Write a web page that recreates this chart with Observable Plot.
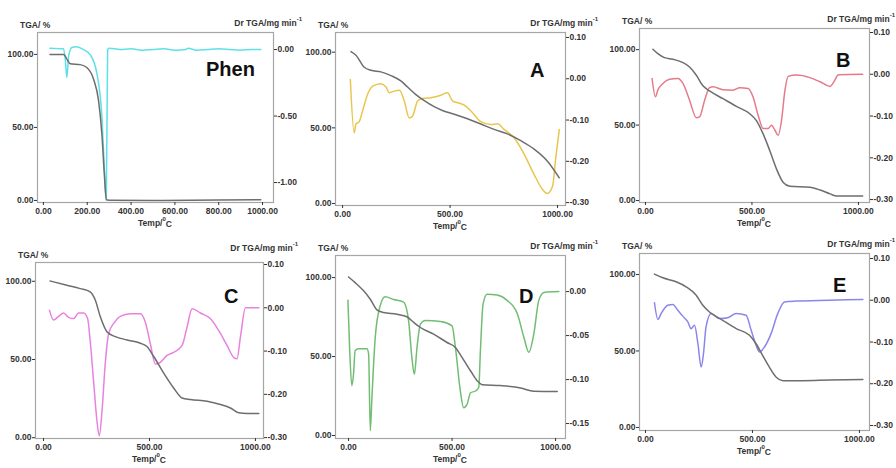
<!DOCTYPE html>
<html><head><meta charset="utf-8">
<script src="https://cdn.jsdelivr.net/npm/d3@7"></script>
<script src="https://cdn.jsdelivr.net/npm/@observablehq/plot@0.6"></script>
<style>
body{margin:0;background:#fff;}
#chart{position:relative;width:896px;height:468px;overflow:hidden;background:#fff;font-family:"Liberation Sans Narrow","Liberation Sans",Arial,sans-serif;}
#chart svg{position:absolute;}
.lab{position:absolute;font-size:8.5px;font-weight:bold;color:#333;white-space:nowrap;line-height:1;}
.lab sup{font-size:6px;vertical-align:5px;line-height:0;}
.lab .sub{font-size:8.5px;position:relative;top:1px;}
.name{position:absolute;font-family:"Liberation Sans",Arial,sans-serif;font-size:20px;font-weight:bold;color:#111;line-height:1;white-space:nowrap;}
</style></head><body><div id="chart"></div>
<script>
// ---------- data (temperature in °C, TGA in %, DTG in mg/min) ----------
const phenTgaT = [30, 92, 110, 122, 168, 198, 229, 252, 267, 278, 287, 300, 500, 800, 992];
const phenTga  = [100, 100, 96, 93.6, 93, 91, 83, 68, 45, 18, 0.5, 0.2, 0, 0.3, 0.5];
const phenDtgT = [30, 92, 100, 107, 115, 130, 150, 183, 214, 244, 267, 278, 287, 293, 300, 350, 400, 450, 500, 550, 600, 650, 660, 700, 750, 800, 850, 900, 950, 992];
const phenDtg  = [0.01, 0.005, -0.08, -0.21, -0.05, 0.015, 0.02, 0, -0.04, -0.18, -0.51, -0.89, -1.13, 0.0, 0.01, 0.0, 0.005, -0.005, 0.0, 0.005, -0.005, 0.0, 0.01, -0.005, 0.0, 0.005, 0.0, -0.005, 0.0, 0.0];

const aTgaT = [39, 62, 101, 132, 178, 225, 271, 302, 341, 380, 426, 473, 519, 581, 643, 705, 767, 829, 891, 953, 1008];
const aTga  = [100.4, 98, 90, 88, 87, 84.5, 81, 77, 72, 68, 64, 61, 59, 56, 52.5, 49, 46, 41.5, 36, 28, 17];
const aDtgT = [36, 54, 62, 78, 93, 116, 140, 178, 202, 217, 240, 264, 287, 310, 326, 349, 372, 411, 457, 488, 512, 535, 566, 597, 643, 690, 721, 752, 798, 845, 891, 930, 953, 977, 992, 1008];
const aDtg  = [-0.002, -0.131, -0.11, -0.103, -0.078, -0.038, -0.018, -0.012, -0.02, -0.034, -0.03, -0.028, -0.054, -0.095, -0.09, -0.054, -0.048, -0.046, -0.04, -0.034, -0.054, -0.058, -0.064, -0.078, -0.104, -0.111, -0.109, -0.123, -0.143, -0.183, -0.232, -0.268, -0.278, -0.26, -0.19, -0.123];

const bTgaT = [35, 58, 89, 129, 176, 207, 239, 270, 301, 364, 427, 490, 521, 553, 584, 615, 647, 678, 772, 820, 867, 898, 1020];
const bTga  = [100.2, 97.3, 94.7, 93.6, 91.4, 88.5, 83, 76, 72.6, 67.5, 62.4, 57.5, 53, 44, 33, 21, 12, 9.5, 8.8, 7, 4.4, 3, 3];
const bDtgT = [31, 47, 58, 82, 113, 152, 176, 207, 239, 254, 278, 301, 317, 364, 411, 443, 482, 505, 529, 553, 576, 592, 608, 623, 639, 655, 670, 710, 772, 820, 867, 885, 906, 1020];
const bDtg  = [-0.010, -0.054, -0.038, -0.022, -0.012, -0.010, -0.022, -0.062, -0.104, -0.102, -0.062, -0.032, -0.030, -0.037, -0.038, -0.032, -0.034, -0.054, -0.098, -0.130, -0.130, -0.122, -0.134, -0.146, -0.110, -0.038, -0.005, -0.002, -0.008, -0.018, -0.029, -0.018, -0.001, 0];

const cTgaT = [31, 110, 173, 220, 244, 268, 299, 339, 394, 457, 488, 520, 567, 614, 654, 693, 772, 835, 882, 921, 961, 1016];
const cTga  = [100.2, 97.5, 95.3, 93.2, 88, 77.3, 67.8, 64.6, 62.5, 60.4, 58.3, 51.9, 41.3, 31.8, 25.4, 24.4, 23.3, 21.2, 19, 15.9, 15.5, 15.5];
const cDtgT = [28, 47, 71, 94, 118, 142, 165, 189, 208, 220, 236, 252, 263, 276, 291, 307, 331, 362, 409, 457, 480, 504, 528, 551, 583, 614, 654, 677, 701, 740, 787, 827, 866, 898, 913, 929, 953, 1016];
const cDtg  = [-0.006, -0.028, -0.020, -0.012, -0.022, -0.025, -0.012, -0.012, -0.025, -0.076, -0.169, -0.261, -0.296, -0.238, -0.130, -0.060, -0.036, -0.020, -0.014, -0.014, -0.033, -0.083, -0.130, -0.126, -0.110, -0.103, -0.087, -0.045, -0.002, -0.012, -0.025, -0.053, -0.087, -0.115, -0.118, -0.068, 0, 0];

const dTgaT = [0, 32, 73, 105, 137, 169, 234, 282, 315, 347, 411, 476, 516, 548, 589, 621, 645, 734, 831, 895, 1008];
const dTga  = [100.4, 96.8, 91.6, 86.3, 79.6, 77.9, 76.8, 75.2, 71.6, 68.4, 64.2, 58.9, 55.8, 49.5, 41, 34.7, 32.2, 31.6, 30.1, 28, 27.8];
const dDtgT = [-3, 5, 16, 24, 32, 48, 89, 97, 105, 113, 129, 153, 177, 218, 266, 290, 306, 318, 331, 347, 371, 444, 500, 516, 540, 556, 573, 589, 613, 629, 637, 650, 669, 718, 766, 815, 847, 871, 895, 919, 944, 1016];
const dDtg  = [-0.010, -0.063, -0.107, -0.094, -0.067, -0.065, -0.065, -0.071, -0.158, -0.120, -0.052, -0.016, -0.006, -0.009, -0.012, -0.033, -0.075, -0.094, -0.063, -0.037, -0.033, -0.034, -0.039, -0.063, -0.113, -0.132, -0.128, -0.115, -0.113, -0.109, -0.067, -0.014, -0.003, -0.004, -0.010, -0.025, -0.052, -0.069, -0.048, -0.010, -0.001, 0];

const eTgaT = [42, 81, 143, 190, 237, 268, 299, 361, 424, 486, 517, 548, 579, 611, 642, 735, 860, 1016];
const eTga  = [100.2, 97.8, 95.2, 91.9, 86.4, 79.9, 75.5, 70, 64.6, 60.2, 54.7, 47, 39.4, 32.8, 30.6, 30.6, 31, 31.3];
const eDtgT = [42, 58, 73, 104, 128, 151, 174, 198, 213, 229, 245, 260, 271, 283, 307, 346, 385, 424, 470, 494, 517, 533, 556, 587, 618, 650, 704, 860, 1016];
const eDtg  = [-0.006, -0.046, -0.032, -0.012, -0.010, -0.024, -0.038, -0.052, -0.068, -0.060, -0.104, -0.160, -0.128, -0.064, -0.032, -0.044, -0.042, -0.032, -0.036, -0.072, -0.108, -0.124, -0.112, -0.080, -0.032, -0.004, -0.002, 0, 0.002];

// ---------- tick labels ----------
const tgaTicks = [0, 50, 100];
const xTicksPhen = [0, 200, 400, 600, 800, 1000];
const xTicks = [0, 500, 1000];
const dtgTicksPhen = [0, -0.5, -1];
const dtgTicks = [0.1, 0, -0.1, -0.2, -0.3];
const dtgTicksD = [0, -0.05, -0.1, -0.15];
const panelNames = ["Phen", "A", "B", "C", "D", "E"];
const dtgColors = ["#5fe0e8", "#e8c64e", "#e57a88", "#e882e0", "#72bd72", "#8c86ea"];

// ---------- layout ----------
const panels = [
  {tgaT: phenTgaT, tga: phenTga, dtgT: phenDtgT, dtg: phenDtg, fx: [37, 273], fy: [32, 202], xdom: [-27, 1050], ydom: [-1.4, 115], rdom: [-1.15, 0.128], xt: xTicksPhen, rt: dtgTicksPhen, nm: [206, 59], rTitle: 302, rTop: 19},
  {tgaT: aTgaT, tga: aTga, dtgT: aDtgT, dtg: aDtg, fx: [335, 565], fy: [32, 205], xdom: [-33, 1037], ydom: [-1.3, 113], rdom: [-0.307, 0.112], xt: xTicks, rt: dtgTicks, nm: [530, 60], rTitle: 598, rTop: 19},
  {tgaT: bTgaT, tga: bTga, dtgT: bDtgT, dtg: bDtg, fx: [639, 869], fy: [28, 202], xdom: [-28, 1052], ydom: [-1.3, 114], rdom: [-0.307, 0.1096], xt: xTicks, rt: dtgTicks, nm: [836, 50], rTitle: 895, rTop: 15},
  {tgaT: cTgaT, tga: cTga, dtgT: cDtgT, dtg: cDtg, fx: [35, 263], fy: [262, 438], xdom: [-38, 1038], ydom: [-0.5, 112], rdom: [-0.302, 0.1046], xt: xTicks, rt: dtgTicks, nm: [224, 286], rTitle: 298, rTop: 244},
  {tgaT: dTgaT, tga: dTga, dtgT: dDtgT, dtg: dDtg, fx: [335, 565], fy: [255, 438], xdom: [-63, 1048], ydom: [-1.9, 114], rdom: [-0.167, 0.041], xt: xTicks, rt: dtgTicksD, nm: [519, 286], rTitle: 598, rTop: 242},
  {tgaT: eTgaT, tga: eTga, dtgT: eDtgT, dtg: eDtg, fx: [639, 869], fy: [253, 430], xdom: [-28, 1047], ydom: [-2, 113.7], rdom: [-0.312, 0.112], xt: xTicks, rt: dtgTicks, nm: [833, 275], rTitle: 895, rTop: 240}
];

const chart = document.getElementById("chart");
const fmt2 = v => { const s = v.toFixed(2); return s === "-0.00" ? "0.00" : s; };

panels.forEach((p, k) => {
  const ml = 40, mr = 40, mt = 20, mb = 30;
  const fw = p.fx[1] - p.fx[0], fh = p.fy[1] - p.fy[0];
  const toL = d3.scaleLinear().domain(p.rdom).range(p.ydom);
  const tga = p.tgaT.map((t, i) => ({t, v: p.tga[i]}));
  const dtg = p.dtgT.map((t, i) => ({t, v: toL(p.dtg[i])}));
  const svg = Plot.plot({
    width: fw + ml + mr, height: fh + mt + mb,
    marginLeft: ml, marginRight: mr, marginTop: mt, marginBottom: mb,
    x: {domain: p.xdom}, y: {domain: p.ydom},
    style: {background: "transparent", overflow: "visible", fontSize: "8.5px", fontWeight: "bold", fontFamily: '"Liberation Sans Narrow","Liberation Sans",Arial,sans-serif', color: "#333"},
    marks: [
      Plot.frame({stroke: "#a6a6a6", strokeWidth: 1.2}),
      Plot.line(dtg, {x: "t", y: "v", stroke: dtgColors[k], strokeWidth: 1.5, curve: "monotone-x"}),
      Plot.line(tga, {x: "t", y: "v", stroke: "#6e6e6e", strokeWidth: 1.5, curve: "monotone-x"}),
      Plot.axisX(p.xt, {tickFormat: fmt2, tickSize: 3, tickPadding: 2, label: null}),
      Plot.axisY(tgaTicks, {anchor: "left", tickFormat: fmt2, tickSize: 3, tickPadding: 1, label: null}),
      Plot.axisY(p.rt.map(toL), {anchor: "right", tickFormat: v => fmt2(toL.invert(v)), tickSize: 3, tickPadding: 1, label: null})
    ]
  });
  svg.style.left = (p.fx[0] - ml) + "px";
  svg.style.top = (p.fy[0] - mt) + "px";
  chart.appendChild(svg);

  const addLab = (html, x, y, align) => {
    const d = document.createElement("div");
    d.className = "lab";
    d.innerHTML = html;
    d.style.top = y + "px";
    if (align === "right") d.style.right = (896 - x) + "px";
    else if (align === "center") { d.style.left = x + "px"; d.style.transform = "translateX(-50%)"; }
    else d.style.left = x + "px";
    chart.appendChild(d);
  };
  addLab("TGA/ %", p.fx[0] - 17, p.fy[0] - 11, "left");
  addLab("Dr TGA/mg min<sup>-1</sup>", p.rTitle, p.rTop, "right");
  addLab("Temp/<sup>0</sup><span class='sub'>C</span>", (p.fx[0] + p.fx[1]) / 2, p.fy[1] + 17, "center");

  const n = document.createElement("div");
  n.className = "name";
  n.textContent = panelNames[k];
  n.style.left = p.nm[0] + "px";
  n.style.top = p.nm[1] + "px";
  chart.appendChild(n);
});
</script>
</body></html>
